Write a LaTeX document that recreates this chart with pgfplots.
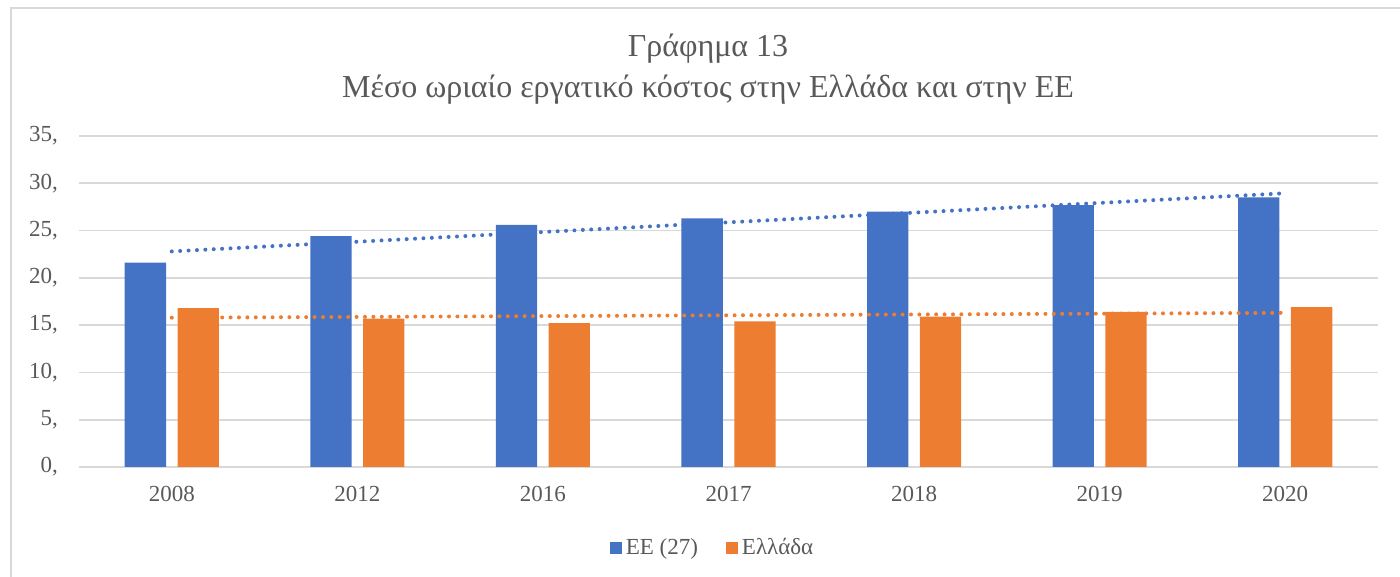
\documentclass[border=0pt]{standalone}
\usepackage{fontspec}
\setmainfont{Liberation Serif}
\usepackage{pgfplots}
\usepackage{pgfplotstable}
\pgfplotsset{compat=1.18}
\definecolor{eeblue}{HTML}{4472C4}
\definecolor{grorange}{HTML}{ED7D31}
\definecolor{gridgray}{HTML}{D9D9D9}
\definecolor{txtgray}{HTML}{595959}

\pgfplotstableread{
x EE GR
0 21.6 16.8
1 24.4 15.7
2 25.6 15.2
3 26.3 15.4
4 27.0 15.9
5 27.7 16.4
6 28.5 16.9
}\datatable

\begin{document}
\begin{tikzpicture}
\path[use as bounding box] (0,0) rectangle (700pt,288.5pt);
\draw[gridgray, line width=1pt] (5.5pt,-10pt) -- (5.5pt,284.5pt) -- (710pt,284.5pt);
\node[text=txtgray, font=\fontsize{16}{19}\selectfont] at (354pt,264pt) {Γράφημα 13};
\node[text=txtgray, font=\fontsize{16}{19}\selectfont] at (354pt,243.5pt) {Μέσο ωριαίο εργατικό κόστος στην Ελλάδα και στην ΕΕ};
\begin{axis}[
  at={(39.5pt,55pt)}, anchor=south west,
  scale only axis, width=649.5pt, height=165.5pt,
  xmin=-0.5, xmax=6.5, ymin=0, ymax=35,
  xtick={0,...,6},
  xticklabels={2008,2012,2016,2017,2018,2019,2020},
  ytick={0,5,...,35},
  yticklabels={{0,},{5,},{10,},{15,},{20,},{25,},{30,},{35,}},
  ymajorgrids,
  grid style={gridgray, line width=0.9pt},
  axis line style={draw=none},
  major tick length=0pt,
  tick style={draw=none},
  ticklabel style={font=\fontsize{11.5}{13}\selectfont, text=txtgray},
  yticklabel style={xshift=-7pt},
  xticklabel style={yshift=-6pt},
  legend style={at={(0.5,-0.245)}, anchor=center, xshift=-7.5pt, draw=none, fill=none,
    legend columns=2, font=\fontsize{11.5}{13}\selectfont, text=txtgray,
    /tikz/every even column/.append style={column sep=12pt}},
]
\addplot[ybar, bar width=20.65pt, bar shift=-13.2pt, fill=eeblue, draw=none,
  legend image code/.code={\fill[eeblue] (0pt,-3pt) rectangle (6pt,3pt);}]
  table[x=x,y=EE]{\datatable};
\addlegendentry{ΕΕ (27)}
\addplot[ybar, bar width=20.65pt, bar shift=13.2pt, fill=grorange, draw=none,
  legend image code/.code={\fill[grorange] (0pt,-3pt) rectangle (6pt,3pt);}]
  table[x=x,y=GR]{\datatable};
\addlegendentry{Ελλάδα}
\addplot[eeblue, line width=2pt, line cap=round, dash pattern=on 0pt off 4.2pt, forget plot]
  table[x=x, y={create col/linear regression={y=EE}}]{\datatable};
\addplot[grorange, line width=2pt, line cap=round, dash pattern=on 0pt off 4.2pt, forget plot]
  table[x=x, y={create col/linear regression={y=GR}}]{\datatable};
\end{axis}
\end{tikzpicture}
\end{document}
